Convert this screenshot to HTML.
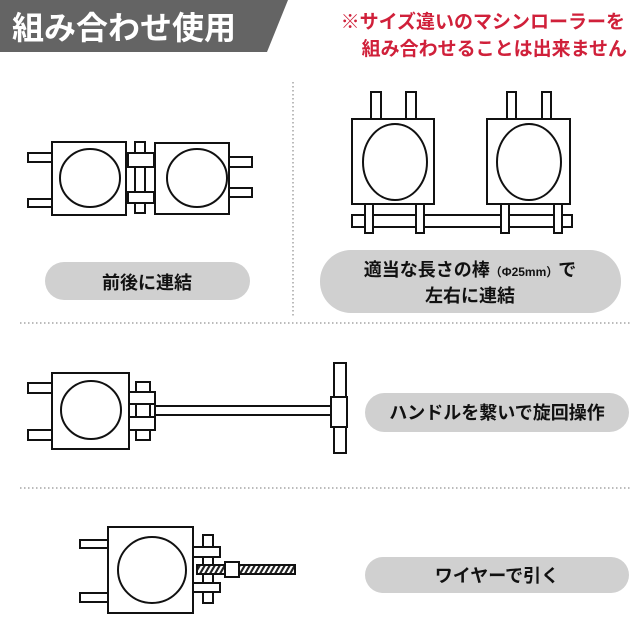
<!DOCTYPE html>
<html><head><meta charset="utf-8"><style>
html,body{margin:0;padding:0;background:#fff;}
svg{display:block;}
text{font-family:"Liberation Sans","Noto Sans CJK JP",sans-serif;font-weight:bold;}
</style></head><body>
<svg width="640" height="640" viewBox="0 0 640 640" xmlns="http://www.w3.org/2000/svg">
<defs>
<pattern id="hatch" width="5" height="8" patternUnits="userSpaceOnUse" patternTransform="skewX(-30)">
<rect width="5" height="8" fill="#fff"/><rect width="2.5" height="8" fill="#222"/>
</pattern>
</defs>
<polygon points="0,0 288,0 267,52 0,52" fill="#646464"/>
<text x="12" y="39" font-size="32" fill="#fff">組み合わせ使用</text>
<text x="625" y="28" font-size="19" fill="#d0203a" text-anchor="end">※サイズ違いのマシンローラーを</text>
<text x="627" y="55" font-size="19" fill="#d0203a" text-anchor="end">組み合わせることは出来ません</text>

<line x1="293" y1="82" x2="293" y2="317" stroke="#bbb" stroke-width="2" stroke-dasharray="1.5,2.5"/>
<line x1="20" y1="323" x2="631" y2="323" stroke="#bbb" stroke-width="2" stroke-dasharray="1.5,2.5"/>
<line x1="20" y1="488" x2="631" y2="488" stroke="#bbb" stroke-width="2" stroke-dasharray="1.5,2.5"/>

<g fill="#fff" stroke="#111" stroke-width="2">
<!-- top-left -->
<rect x="28" y="153" width="24" height="9"/><rect x="28" y="199" width="24" height="8"/>
<rect x="52" y="142" width="74" height="73"/>
<ellipse cx="90" cy="178" rx="30" ry="29"/>
<rect x="135" y="142" width="10" height="71"/>
<rect x="128" y="153" width="26" height="14"/><rect x="128" y="192" width="26" height="11"/>
<rect x="155" y="143" width="74" height="71"/>
<ellipse cx="197" cy="178" rx="30" ry="29"/>
<rect x="229" y="157" width="23" height="10"/><rect x="229" y="188" width="23" height="9"/>

<!-- top-right -->
<rect x="371" y="92" width="10" height="27"/><rect x="406" y="92" width="10" height="27"/>
<rect x="507" y="92" width="9" height="27"/><rect x="542" y="92" width="9" height="27"/>
<rect x="352" y="119" width="82" height="85"/>
<ellipse cx="395" cy="162" rx="32" ry="38"/>
<rect x="487" y="119" width="83" height="85"/>
<ellipse cx="529" cy="162" rx="32" ry="38"/>
<rect x="352" y="215" width="220" height="12"/>
<rect x="365" y="204" width="8" height="29"/><rect x="416" y="204" width="8" height="29"/>
<rect x="501" y="204" width="8" height="29"/><rect x="554" y="204" width="8" height="29"/>

<!-- handle -->
<rect x="28" y="383" width="24" height="10"/><rect x="28" y="430" width="24" height="10"/>
<rect x="52" y="373" width="77" height="76"/>
<ellipse cx="91" cy="410" rx="30" ry="29"/>
<rect x="155" y="406" width="178" height="9"/>
<rect x="136" y="382" width="14" height="58"/>
<rect x="129" y="392" width="26" height="12"/><rect x="129" y="417" width="26" height="13"/>
<rect x="334" y="363" width="12" height="90"/>
<rect x="331" y="397" width="16" height="30"/>

<!-- wire -->
<rect x="80" y="540" width="28" height="8"/><rect x="80" y="593" width="28" height="9"/>
<rect x="108" y="527" width="85" height="86"/>
<ellipse cx="152" cy="570" rx="34" ry="33"/>
<rect x="203" y="535" width="10" height="68"/>
<rect x="193" y="547" width="27" height="10"/><rect x="193" y="583" width="27" height="9"/>
<rect x="197" y="565" width="98" height="9" fill="url(#hatch)"/>
<rect x="225" y="562" width="14" height="15"/>
</g>

<g fill="#d0d0d0">
<rect x="45" y="262" width="205" height="38" rx="19"/>
<rect x="320" y="250" width="301" height="63" rx="31"/>
<rect x="365" y="393" width="264" height="39" rx="19.5"/>
<rect x="365" y="557" width="264" height="36" rx="18"/>
</g>
<g fill="#111" text-anchor="middle">
<text x="147" y="289" font-size="18">前後に連結</text>
<text x="470" y="276" font-size="18">適当な長さの棒<tspan font-size="12">（Φ25mm）</tspan>で</text>
<text x="470" y="302" font-size="18">左右に連結</text>
<text x="497" y="419" font-size="18">ハンドルを繋いで旋回操作</text>
<text x="497" y="582" font-size="18">ワイヤーで引く</text>
</g>
</svg>
</body></html>
